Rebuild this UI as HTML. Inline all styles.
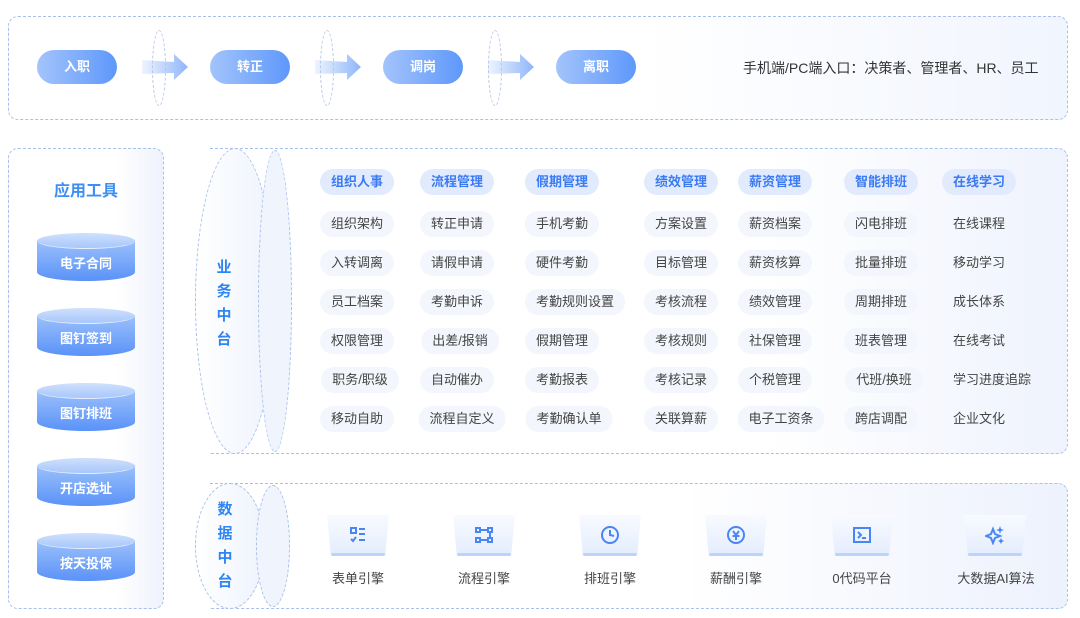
<!DOCTYPE html>
<html><head><meta charset="utf-8"><style>
body{margin:0;width:1080px;height:618px;background:#fff;position:relative;overflow:hidden;font-family:"Liberation Sans","Noto Sans CJK SC",sans-serif}
.a{position:absolute}
.box{position:absolute;border:1.3px dashed #a9c1ea;border-radius:10px;box-sizing:border-box}
.pill{position:absolute;width:80px;height:34px;border-radius:17px;background:linear-gradient(90deg,#a3c4fb,#5e98fb);color:#fff;font-size:13px;font-weight:bold;text-align:center;line-height:34px}
.arr{position:absolute;width:46px;height:26px}
.ell{position:absolute;width:14px;height:76px;border:1.2px dashed #b5c8ea;border-radius:50%;box-sizing:border-box}
.cyl{position:absolute;left:37px;width:98px;height:48px}
.cyl .b{position:absolute;left:0;top:8px;width:98px;height:40px;border-radius:0 0 49px 49px/0 0 9px 9px;background:linear-gradient(180deg,#9bc0fb,#5a92f8)}
.cyl .t{position:absolute;left:0;top:0;width:98px;height:16px;border-radius:50%;background:linear-gradient(180deg,#cfe0fd,#a8c7fb);border-bottom:1px solid #e6effe;box-sizing:border-box}
.cyl span{position:absolute;left:0;top:20px;width:98px;text-align:center;color:#fff;font-size:13px;font-weight:bold}
.h{position:absolute;height:26px;line-height:26px;border-radius:13px;background:#e2ebfd;color:#3a7af2;font-size:13px;font-weight:bold;text-align:center;transform:translateX(-50%);padding:0 11px;white-space:nowrap}
.i{position:absolute;height:26px;line-height:26px;border-radius:13px;background:#f3f6fc;color:#444;font-size:13px;text-align:center;transform:translateX(-50%);padding:0 11px;white-space:nowrap}
.vt{position:absolute;width:20px;font-size:15px;font-weight:bold;line-height:24px;text-align:center;color:#2f86f0}
.ic{position:absolute;width:62px;height:42px;transform:translateX(-50%)}
.ic .bg{position:absolute;left:0;top:0;width:62px;height:40px;clip-path:polygon(0 0,100% 0,94% 100%,6% 100%);background:linear-gradient(180deg,#f8faff,#e4edfd)}
.ic .ln{position:absolute;left:4px;top:38px;width:54px;height:3px;border-radius:2px;background:#bcd3fb}
.ic svg{position:absolute;left:21px;top:10px}
.lb{position:absolute;font-size:13px;color:#444;transform:translateX(-50%);white-space:nowrap;top:568px}
</style></head><body>
<!-- top -->
<div class="box" style="left:8px;top:16px;width:1060px;height:104px;background:linear-gradient(90deg,#fff 60%,#f1f5fe)"></div>
<div class="pill" style="left:37px;top:50px">入职</div>
<div class="pill" style="left:210px;top:50px">转正</div>
<div class="pill" style="left:383px;top:50px">调岗</div>
<div class="pill" style="left:556px;top:50px">离职</div>
<svg class="arr" style="left:142px;top:54px" viewBox="0 0 46 26"><defs><linearGradient id="g" x1="0" x2="1"><stop offset="0" stop-color="#eef4ff"/><stop offset="1" stop-color="#8fb6fa"/></linearGradient></defs><polygon points="0,6 32,8 32,0 46,13 32,26 32,19 0,20" fill="url(#g)"/></svg>
<svg class="arr" style="left:315px;top:54px" viewBox="0 0 46 26"><polygon points="0,6 32,8 32,0 46,13 32,26 32,19 0,20" fill="url(#g)"/></svg>
<svg class="arr" style="left:488px;top:54px" viewBox="0 0 46 26"><polygon points="0,6 32,8 32,0 46,13 32,26 32,19 0,20" fill="url(#g)"/></svg>
<div class="ell" style="left:152px;top:30px"></div>
<div class="ell" style="left:320px;top:30px"></div>
<div class="ell" style="left:488px;top:30px"></div>
<div class="a" style="left:743px;top:58px;font-size:14px;color:#333">手机端/PC端入口：决策者、管理者、HR、员工</div>
<!-- left -->
<div class="box" style="left:8px;top:148px;width:156px;height:461px;background:linear-gradient(90deg,#fff 70%,#eef2fc)"></div>
<div class="a" style="left:8px;top:177px;width:156px;text-align:center;font-size:16px;font-weight:bold;color:#3f8ff2">应用工具</div>
<div class="cyl" style="top:233px"><div class="b"></div><div class="t"></div><span>电子合同</span></div>
<div class="cyl" style="top:308px"><div class="b"></div><div class="t"></div><span>图钉签到</span></div>
<div class="cyl" style="top:383px"><div class="b"></div><div class="t"></div><span>图钉排班</span></div>
<div class="cyl" style="top:458px"><div class="b"></div><div class="t"></div><span>开店选址</span></div>
<div class="cyl" style="top:533px"><div class="b"></div><div class="t"></div><span>按天投保</span></div>
<!-- business -->
<div class="box" style="left:210px;top:148px;width:858px;height:306px;border-left:none;border-radius:0 10px 10px 0;background:linear-gradient(90deg,#fff 65%,#eff3fd)"></div>
<div class="a" style="left:195px;top:148px;width:80px;height:306px;border:1.3px dashed #a9c1ea;border-radius:50%;box-sizing:border-box;background:linear-gradient(90deg,#fff,#eef3fd)"></div>
<div class="a" style="left:258px;top:150px;width:34px;height:302px;border:1.3px dashed #a9c1ea;border-radius:50%;box-sizing:border-box;background:#f0f4fd"></div>
<div class="vt" style="left:214px;top:256px">业<br>务<br>中<br>台</div>
<div class="h" style="left:357px;top:169px">组织人事</div>
<div class="h" style="left:457px;top:169px">流程管理</div>
<div class="h" style="left:562px;top:169px">假期管理</div>
<div class="h" style="left:681px;top:169px">绩效管理</div>
<div class="h" style="left:775px;top:169px">薪资管理</div>
<div class="h" style="left:881px;top:169px">智能排班</div>
<div class="h" style="left:979px;top:169px">在线学习</div>
<div class="i" style="left:357px;top:211px">组织架构</div><div class="i" style="left:357px;top:250px">入转调离</div><div class="i" style="left:357px;top:289px">员工档案</div><div class="i" style="left:357px;top:328px">权限管理</div><div class="i" style="left:360px;top:367px">职务/职级</div><div class="i" style="left:357px;top:406px">移动自助</div>
<div class="i" style="left:457px;top:211px">转正申请</div><div class="i" style="left:457px;top:250px">请假申请</div><div class="i" style="left:457px;top:289px">考勤申诉</div><div class="i" style="left:460px;top:328px">出差/报销</div><div class="i" style="left:457px;top:367px">自动催办</div><div class="i" style="left:462px;top:406px">流程自定义</div>
<div class="i" style="left:562px;top:211px">手机考勤</div><div class="i" style="left:562px;top:250px">硬件考勤</div><div class="i" style="left:575px;top:289px">考勤规则设置</div><div class="i" style="left:562px;top:328px">假期管理</div><div class="i" style="left:562px;top:367px">考勤报表</div><div class="i" style="left:569px;top:406px">考勤确认单</div>
<div class="i" style="left:681px;top:211px">方案设置</div><div class="i" style="left:681px;top:250px">目标管理</div><div class="i" style="left:681px;top:289px">考核流程</div><div class="i" style="left:681px;top:328px">考核规则</div><div class="i" style="left:681px;top:367px">考核记录</div><div class="i" style="left:681px;top:406px">关联算薪</div>
<div class="i" style="left:775px;top:211px">薪资档案</div><div class="i" style="left:775px;top:250px">薪资核算</div><div class="i" style="left:775px;top:289px">绩效管理</div><div class="i" style="left:775px;top:328px">社保管理</div><div class="i" style="left:775px;top:367px">个税管理</div><div class="i" style="left:781px;top:406px">电子工资条</div>
<div class="i" style="left:881px;top:211px">闪电排班</div><div class="i" style="left:881px;top:250px">批量排班</div><div class="i" style="left:881px;top:289px">周期排班</div><div class="i" style="left:881px;top:328px">班表管理</div><div class="i" style="left:884px;top:367px">代班/换班</div><div class="i" style="left:881px;top:406px">跨店调配</div>
<div class="i" style="left:979px;top:211px;background:none">在线课程</div><div class="i" style="left:979px;top:250px;background:none">移动学习</div><div class="i" style="left:979px;top:289px;background:none">成长体系</div><div class="i" style="left:979px;top:328px;background:none">在线考试</div><div class="i" style="left:992px;top:367px;background:none">学习进度追踪</div><div class="i" style="left:979px;top:406px;background:none">企业文化</div>
<!-- data -->
<div class="box" style="left:210px;top:483px;width:858px;height:126px;border-left:none;border-radius:0 10px 10px 0;background:linear-gradient(90deg,#fff 55%,#eef2fd)"></div>
<div class="a" style="left:195px;top:483px;width:70px;height:126px;border:1.3px dashed #a9c1ea;border-radius:50%;box-sizing:border-box;background:linear-gradient(90deg,#fff,#eef3fd)"></div>
<div class="a" style="left:256px;top:485px;width:34px;height:122px;border:1.3px dashed #a9c1ea;border-radius:50%;box-sizing:border-box;background:#f0f4fd"></div>
<div class="vt" style="left:215px;top:498px">数<br>据<br>中<br>台</div>
<div class="ic" style="left:358px;top:515px"><div class="bg"></div><div class="ln"></div><svg width="20" height="20" viewBox="0 0 20 20" fill="none" stroke="#4a86f3" stroke-width="2"><rect x="3" y="3" width="5" height="5"/><line x1="11" y1="4" x2="17" y2="4"/><line x1="11" y1="9" x2="17" y2="9"/><polyline points="3,14 5,16 8,12"/><line x1="11" y1="15" x2="17" y2="15"/></svg></div>
<div class="ic" style="left:484px;top:515px"><div class="bg"></div><div class="ln"></div><svg width="20" height="20" viewBox="0 0 20 20" fill="none" stroke="#4a86f3" stroke-width="2"><rect x="2" y="3" width="4" height="4"/><rect x="14" y="3" width="4" height="4"/><rect x="2" y="13" width="4" height="4"/><rect x="14" y="13" width="4" height="4"/><line x1="6" y1="5" x2="14" y2="5"/><line x1="16" y1="7" x2="16" y2="13"/><line x1="6" y1="15" x2="14" y2="15"/></svg></div>
<div class="ic" style="left:610px;top:515px"><div class="bg"></div><div class="ln"></div><svg width="20" height="20" viewBox="0 0 20 20" fill="none" stroke="#4a86f3" stroke-width="2"><circle cx="10" cy="10" r="8"/><polyline points="10,5 10,10 14,11"/></svg></div>
<div class="ic" style="left:736px;top:515px"><div class="bg"></div><div class="ln"></div><svg width="20" height="20" viewBox="0 0 20 20" fill="none" stroke="#4a86f3" stroke-width="2"><circle cx="10" cy="10" r="8"/><polyline points="7,6 10,10 13,6"/><line x1="6.5" y1="11" x2="13.5" y2="11"/><line x1="10" y1="10" x2="10" y2="15"/></svg></div>
<div class="ic" style="left:862px;top:515px"><div class="bg"></div><div class="ln"></div><svg width="20" height="20" viewBox="0 0 20 20" fill="none" stroke="#4a86f3" stroke-width="2"><rect x="2" y="3" width="16" height="14"/><polyline points="6,7 9,10 6,13"/><line x1="10" y1="13" x2="14" y2="13"/></svg></div>
<div class="ic" style="left:995px;top:515px"><div class="bg"></div><div class="ln"></div><svg width="20" height="20" viewBox="0 0 20 20" fill="#4a86f3"><path d="M8 4 L10 9 L15 11 L10 13 L8 18 L6 13 L1 11 L6 9Z" fill="none" stroke="#4a86f3" stroke-width="2"/><path d="M15 1 L16 4 L19 5 L16 6 L15 9 L14 6 L11 5 L14 4Z"/><path d="M16 13 L17 15 L19 16 L17 17 L16 19 L15 17 L13 16 L15 15Z"/></svg></div>
<div class="lb" style="left:358px">表单引擎</div>
<div class="lb" style="left:484px">流程引擎</div>
<div class="lb" style="left:610px">排班引擎</div>
<div class="lb" style="left:736px">薪酬引擎</div>
<div class="lb" style="left:862px">0代码平台</div>
<div class="lb" style="left:996px">大数据AI算法</div>
</body></html>
